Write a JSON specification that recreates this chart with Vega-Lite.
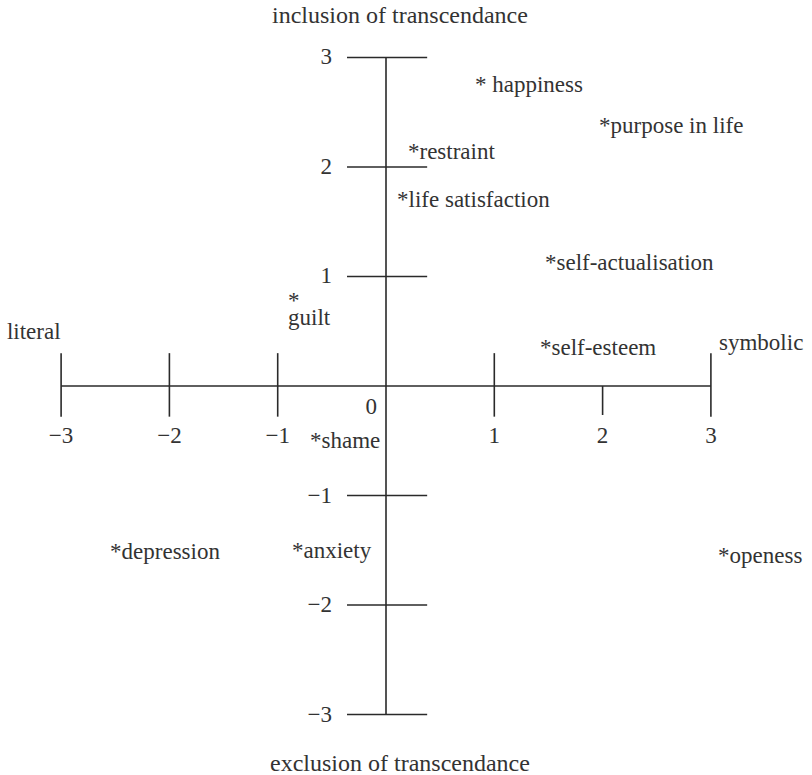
{
  "$schema": "https://vega.github.io/schema/vega-lite/v6.json",
  "width": 812,
  "height": 775,
  "padding": 0,
  "autosize": "none",
  "background": "white",
  "config": {"view": {"stroke": null}},
  "datasets": {
    "segments": [
      {"x": -3, "x2": 3, "y": 0, "y2": 0},
      {"x": 0, "x2": 0, "y": -3, "y2": 3},
      {"x": -3, "x2": -3, "y": 0.3, "y2": -0.28},
      {"x": -2, "x2": -2, "y": 0.3, "y2": -0.28},
      {"x": -1, "x2": -1, "y": 0.3, "y2": -0.28},
      {"x": 1, "x2": 1, "y": 0.3, "y2": -0.28},
      {"x": 2, "x2": 2, "y": 0, "y2": -0.265},
      {"x": 3, "x2": 3, "y": 0.3, "y2": -0.28},
      {"x": -0.36, "x2": 0.38, "y": 3, "y2": 3},
      {"x": -0.36, "x2": 0.38, "y": 2, "y2": 2},
      {"x": -0.36, "x2": 0.38, "y": 1, "y2": 1},
      {"x": -0.36, "x2": 0.38, "y": -1, "y2": -1},
      {"x": -0.36, "x2": 0.38, "y": -2, "y2": -2},
      {"x": -0.36, "x2": 0.38, "y": -3, "y2": -3}
    ],
    "labels": [
      {"x": 0.822, "y": 2.685, "label": "* happiness"},
      {"x": 1.967, "y": 2.311, "label": "*purpose in life"},
      {"x": 0.203, "y": 2.073, "label": "*restraint"},
      {"x": 0.102, "y": 1.635, "label": "*life satisfaction"},
      {"x": 1.468, "y": 1.059, "label": "*self-actualisation"},
      {"x": 1.422, "y": 0.283, "label": "*self-esteem"},
      {"x": -0.905, "y": 0.712, "label": "*\nguilt"},
      {"x": -0.702, "y": -0.566, "label": "*shame"},
      {"x": -2.548, "y": -1.58, "label": "*depression"},
      {"x": -0.868, "y": -1.571, "label": "*anxiety"},
      {"x": 3.066, "y": -1.616, "label": "*openess"},
      {"x": -3.5, "y": 0.429, "label": "literal"},
      {"x": 3.075, "y": 0.329, "label": "symbolic"}
    ],
    "titles": [
      {"x": 0.129, "y": 3.315, "label": "inclusion of transcendance"},
      {"x": 0.129, "y": -3.516, "label": "exclusion of transcendance"}
    ],
    "xticklabels": [
      {"x": -3, "y": -0.52, "label": "−3"},
      {"x": -2, "y": -0.52, "label": "−2"},
      {"x": -1, "y": -0.52, "label": "−1"},
      {"x": 1, "y": -0.52, "label": "1"},
      {"x": 2, "y": -0.52, "label": "2"},
      {"x": 3, "y": -0.52, "label": "3"}
    ],
    "yticklabels": [
      {"x": -0.499, "y": 3, "label": "3"},
      {"x": -0.499, "y": 2, "label": "2"},
      {"x": -0.499, "y": 1, "label": "1"},
      {"x": -0.499, "y": -1, "label": "−1"},
      {"x": -0.499, "y": -2, "label": "−2"},
      {"x": -0.499, "y": -3, "label": "−3"},
      {"x": -0.083, "y": -0.192, "label": "0"}
    ]
  },
  "encoding": {
    "x": {"field": "x", "type": "quantitative", "scale": {"domain": [-3.5642, 3.9335], "nice": false, "zero": false}, "axis": null},
    "y": {"field": "y", "type": "quantitative", "scale": {"domain": [-3.5525, 3.5251], "nice": false, "zero": false}, "axis": null}
  },
  "layer": [
    {
      "data": {"name": "segments"},
      "mark": {"type": "rule", "color": "#2a2a2a", "strokeWidth": 1.6},
      "encoding": {
        "x2": {"field": "x2"},
        "y2": {"field": "y2"}
      }
    },
    {
      "data": {"name": "labels"},
      "mark": {"type": "text", "align": "left", "baseline": "alphabetic", "font": "Liberation Serif", "fontSize": 23, "color": "#333333", "lineBreak": "\n", "lineHeight": 17},
      "encoding": {"text": {"field": "label"}}
    },
    {
      "data": {"name": "titles"},
      "mark": {"type": "text", "align": "center", "baseline": "alphabetic", "font": "Liberation Serif", "fontSize": 24, "color": "#333333"},
      "encoding": {"text": {"field": "label"}}
    },
    {
      "data": {"name": "xticklabels"},
      "mark": {"type": "text", "align": "center", "baseline": "alphabetic", "font": "Liberation Serif", "fontSize": 23, "color": "#333333"},
      "encoding": {"text": {"field": "label"}}
    },
    {
      "data": {"name": "yticklabels"},
      "mark": {"type": "text", "align": "right", "baseline": "middle", "font": "Liberation Serif", "fontSize": 23, "color": "#333333"},
      "encoding": {"text": {"field": "label"}}
    }
  ]
}
